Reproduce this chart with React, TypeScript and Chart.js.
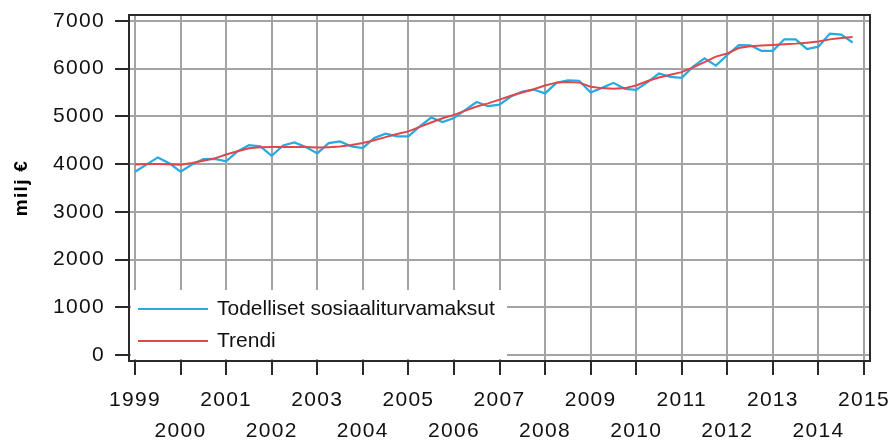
import React, { useEffect, useRef } from 'react';
import { Chart, registerables } from 'chart.js';

Chart.register(...registerables);

// ---- data ----
const startYear = 1999; // first quarter (Q1) of the series
const yearTicks = [1999, 2000, 2001, 2002, 2003, 2004, 2005, 2006, 2007, 2008, 2009, 2010, 2011, 2012, 2013, 2014, 2015];
const valueTicks = [0, 1000, 2000, 3000, 4000, 5000, 6000, 7000];
const yTitle = 'milj €';
const seriesLabels = ['Todelliset sosiaaliturvamaksut', 'Trendi'];

// quarterly values 1999Q1 .. 2014Q4
const actual = [
  3840, 3990, 4140, 4020,
  3840, 3990, 4106, 4110,
  4060, 4266, 4395, 4370,
  4175, 4390, 4454, 4356,
  4225, 4440, 4475, 4370,
  4336, 4545, 4635, 4579,
  4579, 4788, 4975, 4880,
  4962, 5136, 5300, 5212,
  5245, 5414, 5518, 5560,
  5480, 5700, 5755, 5745,
  5500, 5595, 5700, 5575,
  5553, 5715, 5895, 5825,
  5805, 6040, 6215, 6060,
  6284, 6490, 6485, 6370,
  6370, 6611, 6611, 6405,
  6458, 6730, 6710, 6545,
];

const trend = [
  3990, 4000, 4000, 3995,
  3985, 4023, 4070, 4120,
  4200, 4270, 4330, 4355,
  4356, 4356, 4356, 4356,
  4345, 4355, 4370, 4400,
  4440, 4500, 4565, 4630,
  4684, 4780, 4871, 4960,
  5031, 5120, 5205, 5270,
  5350, 5430, 5500, 5567,
  5645, 5705, 5720, 5705,
  5620, 5590, 5575, 5590,
  5645, 5740, 5812, 5870,
  5925, 6025, 6135, 6250,
  6315, 6430, 6465, 6480,
  6493, 6507, 6521, 6541,
  6565, 6610, 6640, 6660,
];

// ---- styles ----
const BLUE = '#27aae2';
const RED = '#e0474c';
const GRID = '#a3a3a3';
const DARK = '#2a2a2a';
const TEXT = '#111111';
const FONT = '"Liberation Sans", Arial, sans-serif';

const toPoints = (values: number[]) => values.map((v, i) => ({ x: startYear + i / 4, y: v }));

const spacingPlugin = {
  id: 'spacing',
  beforeDraw(chart: any) {
    (chart.ctx as any).letterSpacing = '1.3px';
  },
};

const legendPlugin = {
  id: 'insideLegend',
  afterDatasetsDraw(chart: any) {
    const { ctx, chartArea } = chart;
    const left = chartArea.left + 2;
    const top = chartArea.bottom - 71;
    ctx.save();
    (ctx as any).letterSpacing = '0px';
    ctx.fillStyle = '#ffffff';
    ctx.fillRect(left, top, 376, 69);
    const ds = chart.data.datasets;
    ds.forEach((d: any, i: number) => {
      const y = top + 19 + i * 32;
      ctx.strokeStyle = d.borderColor;
      ctx.lineWidth = 2;
      ctx.beginPath();
      ctx.moveTo(left + 7, y);
      ctx.lineTo(left + 77, y);
      ctx.stroke();
      ctx.fillStyle = TEXT;
      ctx.font = `21px ${FONT}`;
      ctx.textBaseline = 'middle';
      ctx.textAlign = 'left';
      ctx.fillText(d.label, left + 86, y);
    });
    ctx.restore();
  },
};

const framePlugin = {
  id: 'frame',
  afterDraw(chart: any) {
    const { ctx, chartArea } = chart;
    ctx.save();
    ctx.strokeStyle = DARK;
    ctx.lineWidth = 2;
    ctx.strokeRect(chartArea.left, chartArea.top, chartArea.right - chartArea.left, chartArea.bottom - chartArea.top);
    ctx.restore();
  },
};

export default function App() {
  const ref = useRef<HTMLCanvasElement | null>(null);

  useEffect(() => {
    if (!ref.current) return;
    const chart = new Chart(ref.current, {
      type: 'line',
      data: {
        datasets: [
          {
            label: seriesLabels[0],
            data: toPoints(actual),
            borderColor: BLUE,
            backgroundColor: BLUE,
            borderWidth: 2.2,
            pointRadius: 0,
            tension: 0,
            order: 1,
          },
          {
            label: seriesLabels[1],
            data: toPoints(trend),
            borderColor: RED,
            backgroundColor: RED,
            borderWidth: 2,
            pointRadius: 0,
            tension: 0,
            order: 0,
          },
        ],
      },
      options: {
        animation: false,
        responsive: false,
        devicePixelRatio: 1,
        layout: { padding: { left: 0, top: 15, right: 23, bottom: 0 } },
        plugins: {
          legend: { display: false },
          tooltip: { enabled: false },
        },
        scales: {
          x: {
            type: 'linear',
            min: 1998.868,
            max: 2015.132,
            afterBuildTicks: (s: any) => {
              s.ticks = yearTicks.map((v) => ({ value: v }));
            },
            afterFit: (s: any) => {
              s.height = 84;
              s.paddingLeft = 0;
              s.paddingRight = 0;
            },
            border: { display: false },
            grid: {
              color: GRID,
              lineWidth: 2,
              tickLength: 14,
              tickColor: DARK,
              tickWidth: 2,
            },
            ticks: {
              autoSkip: false,
              maxRotation: 0,
              minRotation: 0,
              padding: 10,
              color: TEXT,
              font: { family: FONT, size: 21, lineHeight: 1.48 },
              callback: (v: any) => {
                const n = Math.round(Number(v));
                return n % 2 === 1 ? [String(n), ''] : ['', String(n)];
              },
            },
          },
          y: {
            type: 'linear',
            min: -120,
            max: 7120,
            afterBuildTicks: (s: any) => {
              s.ticks = valueTicks.map((v) => ({ value: v }));
            },
            afterFit: (s: any) => {
              s.width = 129;
              s.paddingTop = 0;
              s.paddingBottom = 0;
            },
            border: { display: false },
            grid: {
              color: GRID,
              lineWidth: 2,
              tickLength: 14,
              tickColor: DARK,
              tickWidth: 2,
            },
            ticks: {
              padding: 10,
              color: TEXT,
              font: { family: FONT, size: 21 },
              callback: (v: any) => String(v),
            },
            title: {
              display: true,
              text: yTitle,
              color: '#000000',
              font: { family: FONT, size: 19, weight: 'bold', lineHeight: 1.2 },
              padding: { top: 10, bottom: 0 },
            },
          },
        },
      },
      plugins: [spacingPlugin, legendPlugin, framePlugin],
    } as any);
    return () => chart.destroy();
  }, []);

  return (
    <div style={{ position: 'fixed', left: 0, top: 0, width: 893, height: 445, background: '#fff' }}>
      <canvas ref={ref} width={893} height={445} style={{ display: 'block', width: 893, height: 445 }} />
    </div>
  );
}
